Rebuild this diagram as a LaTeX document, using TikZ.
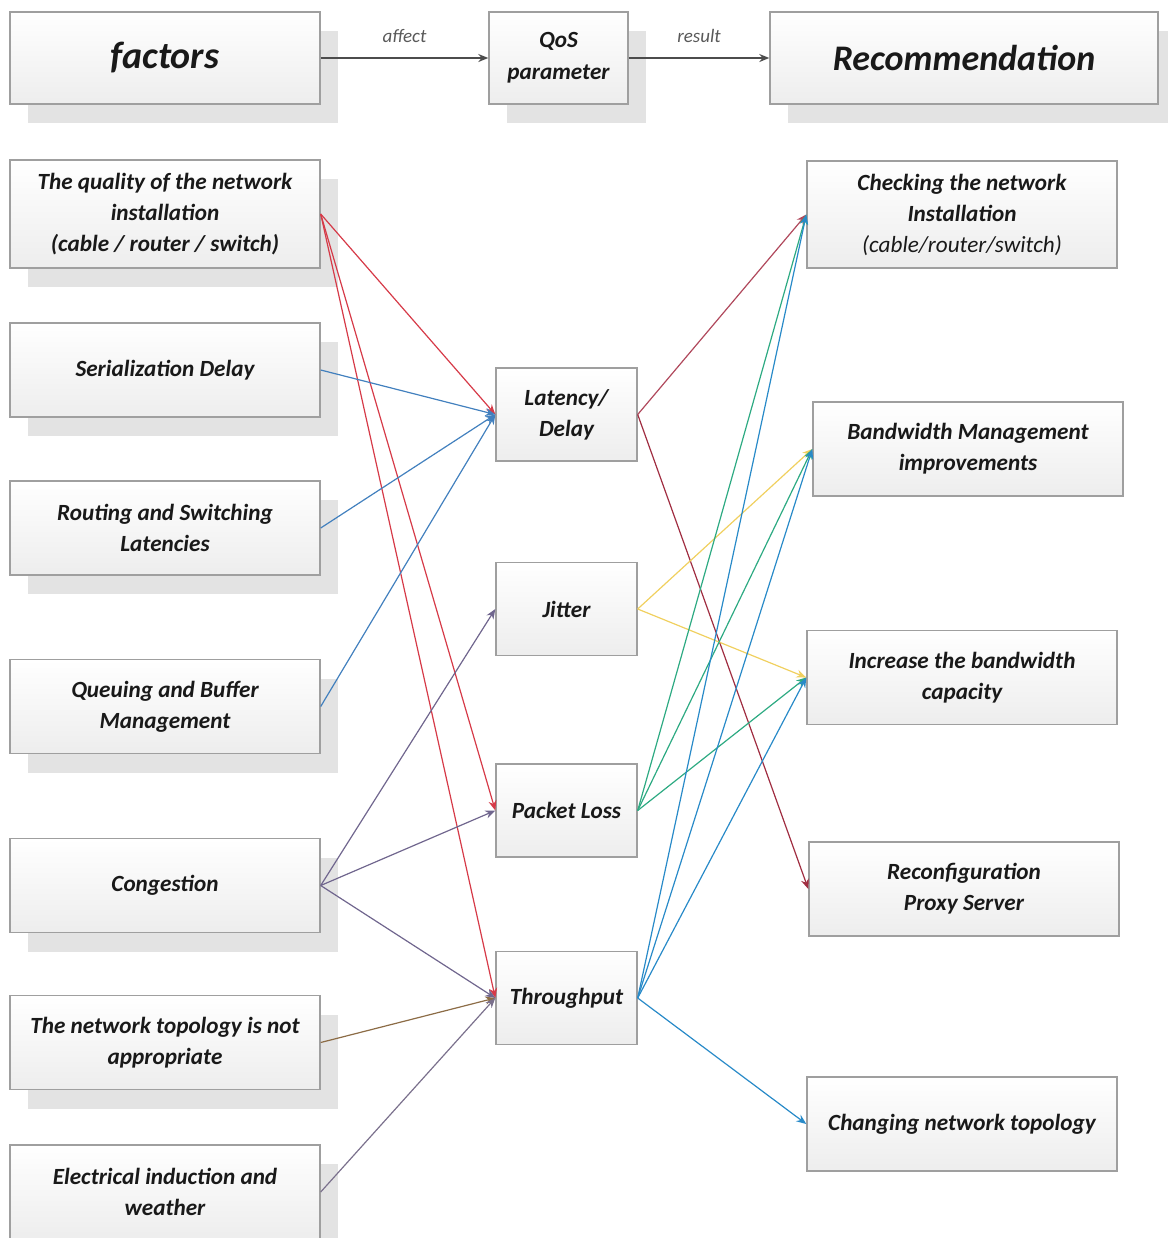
\documentclass[tikz,border=0pt]{standalone}
\usepackage{fontspec}
\setmainfont{Carlito}
\usetikzlibrary{arrows.meta,shadows}

\definecolor{redline}{RGB}{214,58,72}
\definecolor{blueline}{RGB}{66,128,190}
\definecolor{congline}{RGB}{112,102,142}
\definecolor{brownline}{RGB}{140,108,70}
\definecolor{elecline}{RGB}{122,112,140}
\definecolor{mauveline}{RGB}{176,72,92}
\definecolor{darkred}{RGB}{160,45,65}
\definecolor{yellowline}{RGB}{240,208,95}
\definecolor{greenline}{RGB}{45,170,130}
\definecolor{tputline}{RGB}{40,138,200}

\tikzset{
  box/.style={draw=gray!75, line width=0.7pt, top color=white, bottom color=gray!14,
    align=center, text=black!90, inner sep=2pt,
    font=\bfseries\itshape\fontsize{11.6}{15.5}\selectfont},
  shadowed/.style={drop shadow={shadow xshift=9pt, shadow yshift=-9.5pt, fill=gray!22, opacity=1}},
  factor/.style={box, shadowed, minimum width=155pt, minimum height=47pt},
  param/.style={box, minimum width=70.5pt, minimum height=46.5pt},
  advice/.style={box, minimum width=155pt, minimum height=47pt},
  headbox/.style={box, shadowed, minimum height=46pt},
  link/.style={line width=0.6pt, -{Stealth[length=5pt,width=4pt]}},
  headlink/.style={draw=gray!60!black, line width=0.7pt, -{Stealth[length=5pt,width=4pt]}},
  headlabel/.style={above=4pt, text=gray!70!black, font=\itshape\fontsize{9.5}{11}\selectfont},
}

\begin{document}
\begin{tikzpicture}[x=0.5pt, y=-0.5pt]
		%%%%% START %%%%%
		\useasboundingbox (0,0) rectangle (1168,1238);
		
		% header row
		\node[headbox, minimum width=155pt, font=\bfseries\itshape\fontsize{19}{23}\selectfont] (factors) at (165, 58) {factors};
		\node[headbox, minimum width=69.5pt, font=\bfseries\itshape\fontsize{11.6}{16}\selectfont] (qos) at (558.5, 58) {QoS\\parameter};
		\node[headbox, minimum width=194pt, font=\bfseries\itshape\fontsize{18}{22}\selectfont] (recom) at (964, 58) {Recommendation};
		
		\draw[headlink] (factors) -- node[headlabel] {affect} (qos);
		\draw[headlink] (qos) -- node[headlabel] {result} (recom);
		
		% factors
		\node[factor, minimum height=54pt] (quality) at (165, 214) {The quality of the network\\installation\\(cable / router / switch)};
		\node[factor] (serial) at (165, 370) {Serialization Delay};
		\node[factor] (routing) at (165, 528) {Routing and Switching\\Latencies};
		\node[factor] (queuing) at (165, 706.5) {Queuing and Buffer\\Management};
		\node[factor] (congest) at (165, 885.5) {Congestion};
		\node[factor] (topology) at (165, 1042.5) {The network topology is not\\appropriate};
		\node[factor] (electric) at (165, 1192) {Electrical induction and\\weather};
		
		% QoS parameters
		\node[param] (latency) at (566.5, 414.5) {Latency/\\Delay};
		\node[param] (jitter) at (566.5, 609) {Jitter};
		\node[param] (loss) at (566.5, 810.5) {Packet Loss};
		\node[param] (tput) at (566.5, 998) {Throughput};
		
		% recommendations
		\node[advice, minimum height=53.5pt] (check) at (962, 214.5) {Checking the network\\Installation\\{\mdseries(cable/router/switch)}};
		\node[advice] (bandmgmt) at (968, 449) {Bandwidth Management\\improvements};
		\node[advice] (capacity) at (962, 677.5) {Increase the bandwidth\\capacity};
		\node[advice] (proxy) at (964, 889) {Reconfiguration\\Proxy Server};
		\node[advice] (change) at (962, 1124) {Changing network topology};
		
		% factors -> parameters
		\draw[link, redline] (quality.east) -- (latency.west);
		\draw[link, redline] (quality.east) -- (loss.west);
		\draw[link, redline] (quality.east) -- (tput.west);
		\draw[link, blueline] (serial.east) -- (latency.west);
		\draw[link, blueline] (routing.east) -- (latency.west);
		\draw[link, blueline] (queuing.east) -- (latency.west);
		\draw[link, congline] (congest.east) -- (jitter.west);
		\draw[link, congline] (congest.east) -- (loss.west);
		\draw[link, congline] (congest.east) -- (tput.west);
		\draw[link, brownline] (topology.east) -- (tput.west);
		\draw[link, elecline] (electric.east) -- (tput.west);
		
		% parameters -> recommendations
		\draw[link, mauveline] (latency.east) -- (check.west);
		\draw[link, darkred] (latency.east) -- (proxy.west);
		\draw[link, yellowline] (jitter.east) -- (bandmgmt.west);
		\draw[link, yellowline] (jitter.east) -- (capacity.west);
		\draw[link, greenline] (loss.east) -- (check.west);
		\draw[link, greenline] (loss.east) -- (bandmgmt.west);
		\draw[link, greenline] (loss.east) -- (capacity.west);
		\draw[link, tputline] (tput.east) -- (check.west);
		\draw[link, tputline] (tput.east) -- (bandmgmt.west);
		\draw[link, tputline] (tput.east) -- (capacity.west);
		\draw[link, tputline] (tput.east) -- (change.west);
		
		%%%%% END %%%%%
\end{tikzpicture}
\end{document}
